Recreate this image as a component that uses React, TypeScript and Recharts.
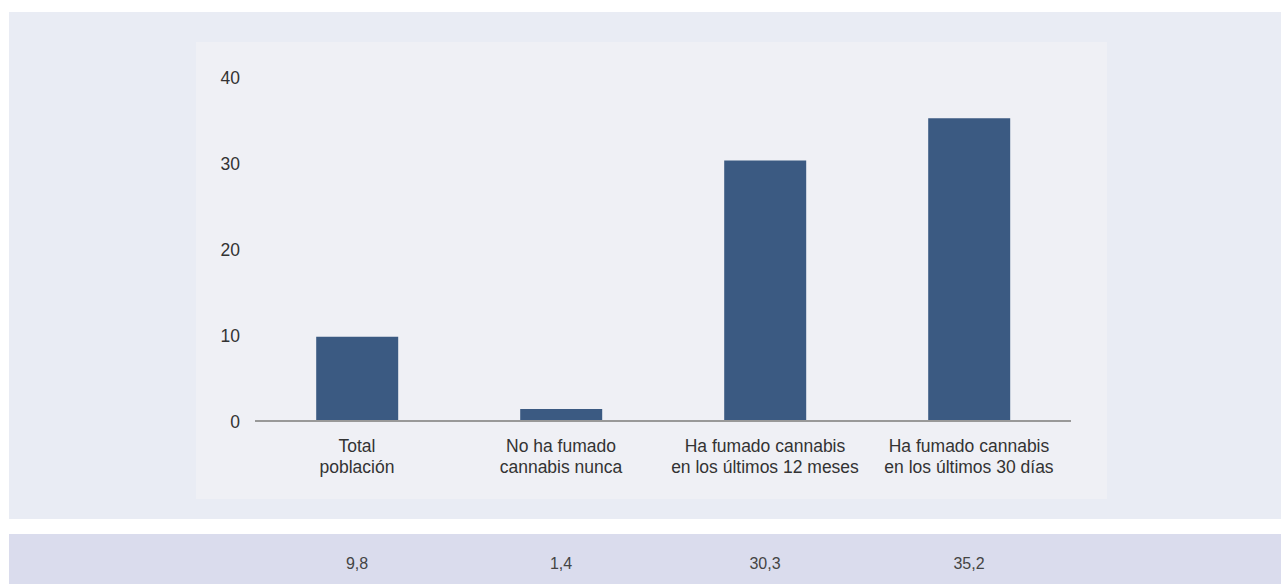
import { BarChart, Bar, XAxis, YAxis } from 'recharts';

const categories = [
  ['Total', 'población'],
  ['No ha fumado', 'cannabis nunca'],
  ['Ha fumado cannabis', 'en los últimos 12 meses'],
  ['Ha fumado cannabis', 'en los últimos 30 días'],
];
const values = [9.8, 1.4, 30.3, 35.2];
const yTicks = [0, 10, 20, 30, 40];

const data = categories.map((lines, i) => ({ name: lines.join('\n'), value: values[i] }));

const FONT = '"Liberation Sans", Arial, Helvetica, sans-serif';

function CategoryTick({ x, y, payload }: any) {
  const lines = String(payload.value).split('\n');
  return (
    <text x={x} y={y} textAnchor="middle" fill="#333" fontSize={17.5} fontFamily={FONT}>
      {lines.map((l, i) => (
        <tspan key={i} x={x} dy={i === 0 ? 23 : 21}>
          {l}
        </tspan>
      ))}
    </text>
  );
}

function ValueTick({ x, y, payload }: any) {
  return (
    <text x={x} y={y} dy={7} textAnchor="end" fill="#333" fontSize={17.5} fontFamily={FONT}>
      {payload.value}
    </text>
  );
}

export default function App() {
  return (
    <div
      style={{
        position: 'absolute',
        left: 0,
        top: 0,
        width: 1281,
        height: 584,
        background: '#fff',
        overflow: 'hidden',
        fontFamily: FONT,
      }}
    >
      <div style={{ position: 'absolute', left: 9, top: 12, width: 1272, height: 507, background: '#e9ecf4' }} />
      <div style={{ position: 'absolute', left: 196, top: 42, width: 911, height: 457, background: '#eff0f5' }} />
      <div style={{ position: 'absolute', left: 0, top: 0 }}>
        <BarChart
          width={1281}
          height={520}
          data={data}
          margin={{ top: 77, right: 210, bottom: 39, left: 195 }}
          barCategoryGap="30%"
        >
          <YAxis
            domain={[0, 40]}
            ticks={yTicks}
            axisLine={false}
            tickLine={false}
            tickSize={0}
            tickMargin={15}
            width={60}
            tick={<ValueTick />}
          />
          <XAxis
            dataKey="name"
            axisLine={{ stroke: '#999', strokeWidth: 2 }}
            tickLine={false}
            height={60}
            interval={0}
            tick={<CategoryTick />}
          />
          <Bar dataKey="value" fill="#3b5a82" isAnimationActive={false} />
        </BarChart>
      </div>
      <div
        style={{
          position: 'absolute',
          left: 9,
          top: 534,
          width: 1272,
          height: 50,
          background: '#dadced',
        }}
      />
      <div style={{ position: 'absolute', left: 255, top: 555, width: 816, display: 'flex' }}>
        {values.map((v, i) => (
          <div key={i} style={{ width: 204, textAlign: 'center', fontSize: 16, color: '#444' }}>
            {v.toFixed(1).replace('.', ',')}
          </div>
        ))}
      </div>
    </div>
  );
}
